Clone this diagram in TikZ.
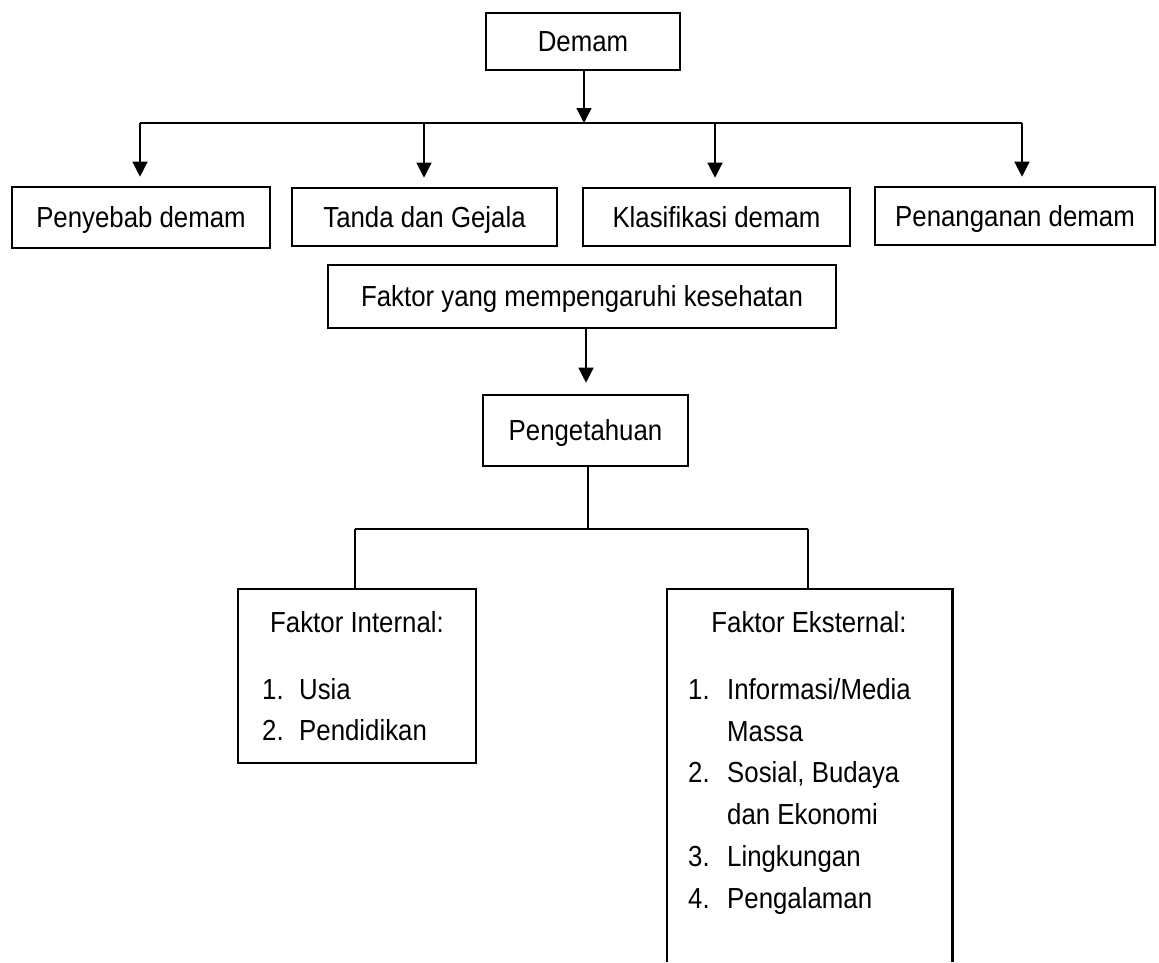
\documentclass[tikz,border=0pt]{standalone}
\usepackage{fontspec}
\setmainfont[FakeStretch=0.89]{Liberation Sans}
\usetikzlibrary{arrows.meta}
\begin{document}
\begin{tikzpicture}[x=1pt,y=-1pt,
  font=\fontsize{29}{41.8}\selectfont,
  boxnode/.style={draw=black,line width=2.6pt,rectangle,inner sep=0pt,text height=20.8pt,text depth=0pt},
  conn/.style={draw=black,line width=1.3pt},
  arr/.style={conn,-{Triangle[width=15pt,length=15pt]}},
  txt/.style={inner sep=0pt,anchor=base west},
  ttl/.style={inner sep=0pt,anchor=base}]
\useasboundingbox[fill=white] (0,0) rectangle (1159,962);

% top
\node[boxnode,minimum width=194pt,minimum height=57pt] (demam) at (583,41.5) {Demam};
\node[boxnode,minimum width=258pt,minimum height=61pt] (penyebab) at (141,217.5) {Penyebab demam};
\node[boxnode,minimum width=265pt,minimum height=58pt] (tanda) at (424.5,217) {Tanda dan Gejala};
\node[boxnode,minimum width=267pt,minimum height=58pt] (klas) at (716.5,217) {Klasifikasi demam};
\node[boxnode,minimum width=280pt,minimum height=58pt] (penang) at (1015,216) {Penanganan demam};

\coordinate (h1) at (140,123);
\coordinate (h2) at (424,123);
\coordinate (h3) at (715,123);
\coordinate (h4) at (1022,123);
\coordinate (hd) at (584,123);

\draw[arr] (demam.south -| hd) -- (hd);
\draw[conn] (h1) -- (h4);
\draw[arr,shorten >=9pt] (h1) -- (h1 |- penyebab.north);
\draw[arr,shorten >=9pt] (h2) -- (h2 |- tanda.north);
\draw[arr,shorten >=9pt] (h3) -- (h3 |- klas.north);
\draw[arr,shorten >=9pt] (h4) -- (h4 |- penang.north);

% middle
\node[boxnode,minimum width=508pt,minimum height=63pt] (faktor) at (582,296.5) {Faktor yang mempengaruhi kesehatan};
\node[boxnode,minimum width=205pt,minimum height=71pt] (penget) at (585.5,430.5) {Pengetahuan};
\coordinate (fa) at (586,328);
\draw[arr,shorten >=11pt] (faktor.south -| fa) -- (fa |- penget.north);

% bottom
\node[draw=black,line width=2.6pt,rectangle,inner sep=0pt,minimum width=238pt,minimum height=174pt] (internal) at (357,676) {};
\node[minimum width=285pt,minimum height=373pt,inner sep=0pt,anchor=north west] (eks) at (667,589) {};
\draw[line width=2.6pt] (eks.south west) -- (eks.north west) -- (eks.north east) -- (eks.south east);

\coordinate (pb) at (588,529);
\coordinate (bl) at (355,529);
\coordinate (br) at (808,529);
\draw[conn] (penget.south -| pb) -- (pb);
\draw[conn] (bl) -- (br);
\draw[conn] (bl) -- (bl |- internal.north);
\draw[conn] (br) -- (br |- eks.north);

\node[ttl] (ti) at (357,632) {Faktor Internal:};
\node[txt] (i1n) at (262,699) {1.};
\node[txt] (i1) at (299,699) {Usia};
\node[txt] (i2n) at (262,740) {2.};
\node[txt] (i2) at (299,740) {Pendidikan};

\node[ttl] (te) at (809,632) {Faktor Eksternal:};
\node[txt] (e1n) at (688,699) {1.};
\node[txt] (e1) at (727,699) {Informasi/Media};
\node[txt] (e1b) at (727,741) {Massa};
\node[txt] (e2n) at (688,782) {2.};
\node[txt] (e2) at (727,782) {Sosial, Budaya};
\node[txt] (e2b) at (727,824) {dan Ekonomi};
\node[txt] (e3n) at (688,866) {3.};
\node[txt] (e3) at (727,866) {Lingkungan};
\node[txt] (e4n) at (688,908) {4.};
\node[txt] (e4) at (727,908) {Pengalaman};
\end{tikzpicture}
\end{document}
